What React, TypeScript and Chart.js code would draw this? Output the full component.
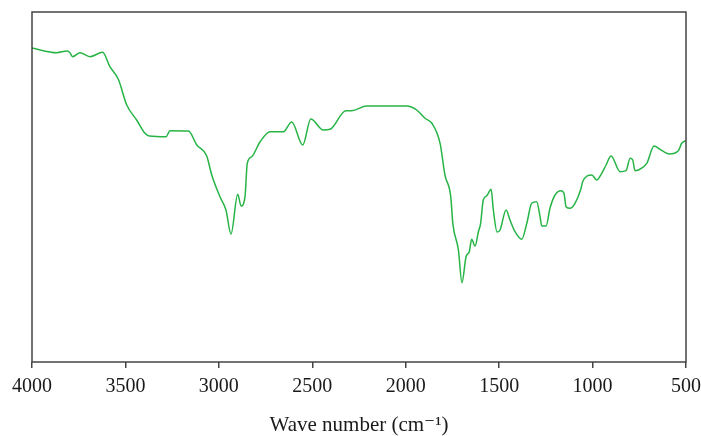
import React, { useEffect, useRef } from "react";
import { Chart, registerables } from "chart.js";

Chart.register(...registerables);

// Wavenumber (cm^-1) and transmittance (arbitrary units)
const wavenumbers = [
  4000, 3868, 3811, 3797, 3782, 3743, 3690, 3622, 3583, 3538, 3493, 3440, 3395, 3372,
  3283, 3261, 3163, 3118, 3065, 3038, 2994, 2962, 2935, 2899, 2881, 2860, 2848, 2824,
  2780, 2726, 2655, 2610, 2551, 2508, 2441, 2405, 2320, 2289, 2209, 1995, 1941, 1897,
  1859, 1816, 1790, 1759, 1748, 1718, 1699, 1677, 1660, 1647, 1629, 1611, 1599, 1585,
  1566, 1543, 1531, 1511, 1495, 1463, 1442, 1415, 1379, 1352, 1326, 1299, 1281, 1272,
  1249, 1228, 1201, 1170, 1153, 1142, 1121, 1094, 1063, 1053, 1004, 978, 951, 928, 901,
  853, 821, 799, 785, 773, 755, 710, 671, 639, 589, 541, 523, 500,
];
const transmittance = [
  314, 309.3, 311, 309.3, 305.3, 309.3, 305.3, 309.7, 295.3, 282.7, 257, 242, 228.7, 226,
  225.3, 231.3, 231, 217, 206, 187, 165.3, 152, 128, 167.7, 156, 165.3, 198.7, 205.3,
  220, 230.3, 230.3, 240, 217, 243, 232, 232.7, 251.3, 251.3, 256, 256, 252, 243.7,
  238.5, 218.7, 187, 165.3, 138.7, 112, 79.3, 105.3, 110.3, 122.7, 116, 130.3, 138.7, 162,
  166.3, 172.7, 152, 130, 132, 152, 142, 130.3, 122.7, 138.7, 158.7, 160.3, 145.3, 136,
  136, 153.7, 167, 171.3, 168.7, 155.3, 153.7, 158.7, 172.7, 180.3, 187, 182, 188.7, 197, 206,
  190.3, 191.3, 203.7, 202, 191.3, 192, 198.7, 216, 212.7, 208, 211.3, 218.7, 221.3,
];
const xTicks = [4000, 3500, 3000, 2500, 2000, 1500, 1000, 500];
const xTitle = "Wave number (cm\u207B\u00B9)";

const frame = {
  id: "frame",
  afterDatasetsDraw(chart: any) {
    const { ctx, chartArea } = chart;
    ctx.save();
    ctx.strokeStyle = "#444";
    ctx.lineWidth = 1.5;
    ctx.strokeRect(chartArea.left, chartArea.top, chartArea.right - chartArea.left, chartArea.bottom - chartArea.top);
    ctx.restore();
  },
};

export default function App() {
  const ref = useRef<HTMLCanvasElement>(null);
  useEffect(() => {
    document.body.style.margin = "0";
    const points = wavenumbers.map((w, i) => ({ x: w, y: transmittance[i] }));
    const chart = new Chart(ref.current!, {
      type: "line",
      data: {
        datasets: [
          {
            data: points,
            borderColor: "#27b446",
            borderWidth: 1.5,
            pointRadius: 0,
            fill: false,
            cubicInterpolationMode: "monotone",
          },
        ],
      },
      options: {
        animation: false,
        responsive: false,
        parsing: false as any,
        layout: { padding: { left: 32, right: 15, top: 12, bottom: 0 } },
        plugins: { legend: { display: false }, tooltip: { enabled: false } },
        scales: {
          x: {
            type: "linear",
            reverse: true,
            min: 500,
            max: 4000,
            afterBuildTicks: (scale: any) => {
              scale.ticks = xTicks.map((v) => ({ value: v }));
            },
            afterFit: (scale: any) => {
              scale.height = 74;
              scale.paddingLeft = 0;
              scale.paddingRight = 0;
            },
            border: { display: false },
            grid: { drawOnChartArea: false, drawTicks: true, tickLength: 6, color: "#444", lineWidth: 1.5 },
            ticks: {
              padding: 7,
              maxRotation: 0,
              autoSkip: false,
              color: "#1a1a1a",
              font: { family: "'Liberation Serif', 'DejaVu Serif', serif", size: 20 },
              callback: (v: any) => String(v),
            },
            title: {
              display: true,
              text: xTitle,
              color: "#1a1a1a",
              padding: { top: 0, bottom: 0 },
              font: { family: "'Liberation Serif', 'DejaVu Serif', serif", size: 21, lineHeight: 1 },
            },
          },
          y: { type: "linear", min: 0, max: 350, display: false },
        },
      },
      plugins: [frame],
    });
    return () => chart.destroy();
  }, []);
  return <canvas ref={ref} width={701} height={436} style={{ display: "block" }} />;
}
